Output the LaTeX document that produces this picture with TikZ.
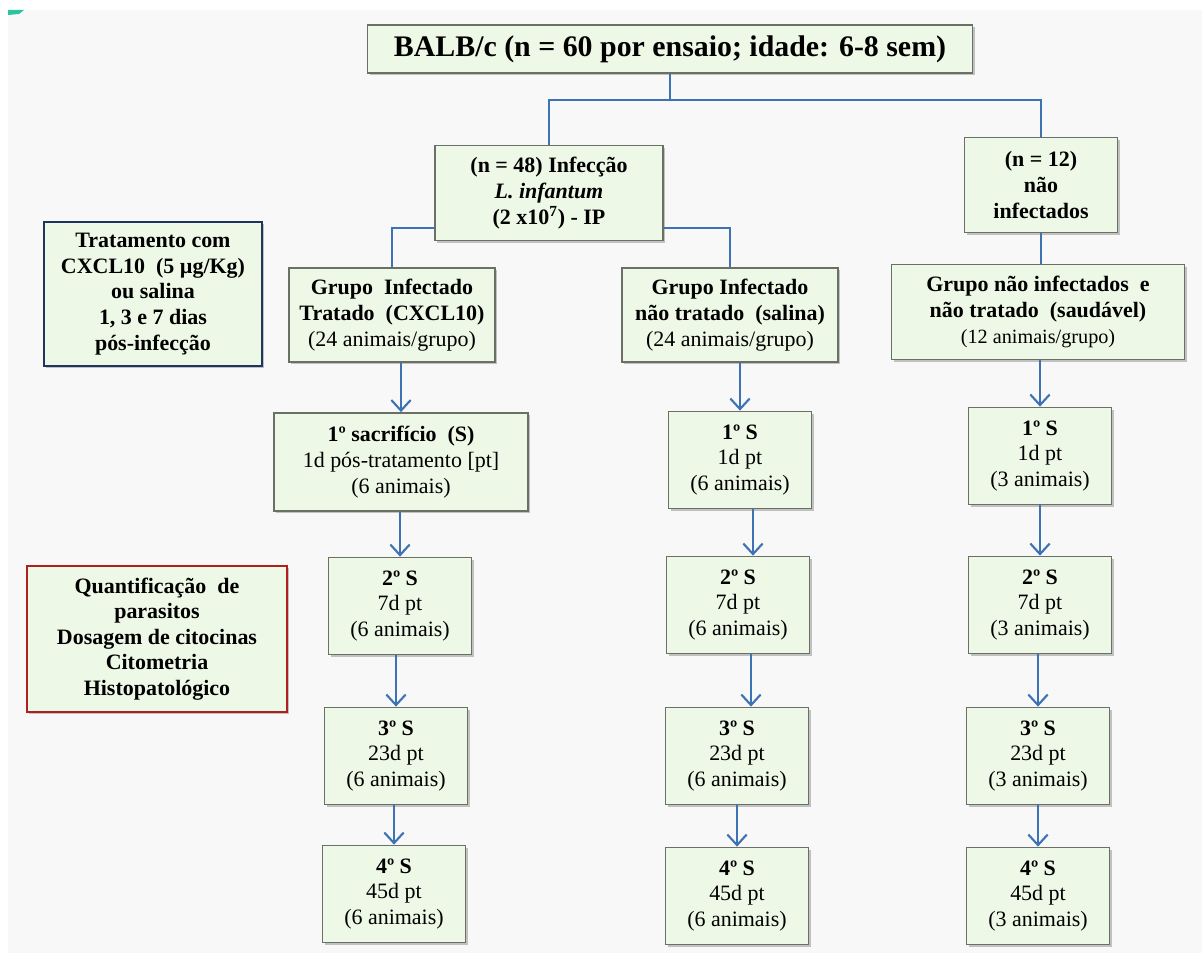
\documentclass[tikz,border=0pt]{standalone}
\usepackage{fontspec}
\setmainfont{Liberation Serif}
\usetikzlibrary{arrows.meta, positioning, calc, shadows}
\usepackage{xcolor}
\definecolor{boxfill}{HTML}{EEF8E6}
\definecolor{boxstr}{HTML}{6B7066}
\definecolor{linkblue}{HTML}{3D72B4}
\definecolor{treatstr}{HTML}{1F3560}
\definecolor{assaystr}{HTML}{B01E1E}
\definecolor{pagebg}{HTML}{F8F8F8}
\definecolor{tealmark}{HTML}{2BC4A0}
\newcommand{\boxfont}{\fontsize{12.5}{14.6}\selectfont\bfseries}
\tikzset{
  box/.style     ={rectangle, draw=boxstr, fill=boxfill, line width=1pt,
                   drop shadow={shadow xshift=1.3pt, shadow yshift=-1.3pt, opacity=0.45},
                   inner sep=0pt, align=center, font=\boxfont},
  titlebox/.style={box, minimum width=12.1cm, minimum height=0.96cm,
                   font=\fontsize{17}{20}\selectfont\bfseries},
  sbox/.style    ={box, minimum width=2.86cm, minimum height=1.94cm},
  notebox/.style ={box, line width=1.6pt},
  link/.style    ={draw=linkblue, line width=1.2pt},
  arr/.style     ={link, -{Straight Barb[length=6pt, width=11pt]}},
}

\begin{document}
\begin{tikzpicture}[x=0.02cm, y=-0.02cm]
    \useasboundingbox (0,0) rectangle (1202,953);
    \fill[pagebg] (8,10) rectangle (1202,953);
    \fill[tealmark] (8,10) -- (24,10) -- (19,14) -- (8,15) -- cycle;

    \node[titlebox] (balb) at (670,49) {BALB/c (n = 60 por ensaio; idade: 6-8 sem)};

    \node[box, minimum width=4.56cm, minimum height=1.9cm] (inf) at (549,193)
        {(n = 48) Infecção\\\textit{L. infantum}\\(2 x10\textsuperscript{7}) - IP};
    \node[box, minimum width=3.06cm, minimum height=1.9cm] (noinf) at (1041,185)
        {(n = 12)\\não\\infectados};

    \node[box, minimum width=4.12cm, minimum height=1.88cm] (trat) at (392,315)
        {Grupo \ Infectado\\Tratado \ (CXCL10)\\\mdseries(24 animais/grupo)};
    \node[box, minimum width=4.32cm, minimum height=1.88cm] (sal) at (730,315)
        {Grupo Infectado\\não tratado \ (salina)\\\mdseries(24 animais/grupo)};
    \node[box, minimum width=5.86cm, minimum height=1.9cm] (sau) at (1038,312)
        {Grupo não infectados \ e\\não tratado \ (saudável)\\\mdseries\fontsize{11.5}{14}\selectfont(12 animais/grupo)};

    \node[notebox, draw=treatstr, minimum width=4.36cm, minimum height=2.88cm] (treat) at (153,294)
        {Tratamento com\\CXCL10 \ (5 µg/Kg)\\ou salina\\1, 3 e 7 dias\\pós-infecção};
    \node[notebox, draw=assaystr, minimum width=5.2cm, minimum height=2.92cm] (assay) at (157,639)
        {Quantificação \ de\\parasitos\\Dosagem de citocinas\\Citometria\\Histopatológico};

    % infectado tratado
    \node[box, minimum width=5.08cm, minimum height=1.96cm] (a1) at (401,462)
        {1º sacrifício \ (S)\\\mdseries 1d pós-tratamento [pt]\\\mdseries(6 animais)};
    \node[sbox] (a2) at (400,606) {2º S\\\mdseries 7d pt\\\mdseries(6 animais)};
    \node[sbox] (a3) at (396,756) {3º S\\\mdseries 23d pt\\\mdseries(6 animais)};
    \node[sbox] (a4) at (394,894) {4º S\\\mdseries 45d pt\\\mdseries(6 animais)};

    % infectado nao tratado
    \node[sbox] (b1) at (740,460) {1º S\\\mdseries 1d pt\\\mdseries(6 animais)};
    \node[sbox] (b2) at (738,605) {2º S\\\mdseries 7d pt\\\mdseries(6 animais)};
    \node[sbox] (b3) at (737,756) {3º S\\\mdseries 23d pt\\\mdseries(6 animais)};
    \node[sbox] (b4) at (737,896) {4º S\\\mdseries 45d pt\\\mdseries(6 animais)};

    % saudavel
    \node[sbox] (c1) at (1040,456) {1º S\\\mdseries 1d pt\\\mdseries(3 animais)};
    \node[sbox] (c2) at (1040,605) {2º S\\\mdseries 7d pt\\\mdseries(3 animais)};
    \node[sbox] (c3) at (1038,756) {3º S\\\mdseries 23d pt\\\mdseries(3 animais)};
    \node[sbox] (c4) at (1038,896) {4º S\\\mdseries 45d pt\\\mdseries(3 animais)};

    \coordinate (split) at (670,100);
    \draw[link] (balb.south) -- (split);
    \draw[link] (inf.north) |- (split) -| (noinf.north);
    \draw[link] ([yshift=-0.7cm]inf.west) -| (trat.north);
    \draw[link] ([yshift=-0.7cm]inf.east) -| (sal.north);
    \draw[link] (noinf.south) -- (noinf.south |- sau.north);

    \draw[arr] (trat.south -| a1.north) -- (a1.north);
    \draw[arr] (a1.south -| a2.north) -- (a2.north);
    \draw[arr] (a2.south -| a3.north) -- (a3.north);
    \draw[arr] (a3.south -| a4.north) -- (a4.north);
    \draw[arr] (sal.south -| b1.north) -- (b1.north);
    \draw[arr] ([xshift=0.26cm]b1.south) -- ([xshift=0.26cm]b1.south |- b2.north);
    \draw[arr] ([xshift=0.26cm]b2.south) -- ([xshift=0.26cm]b2.south |- b3.north);
    \draw[arr] (b3.south -| b4.north) -- (b4.north);
    \draw[arr] (sau.south -| c1.north) -- (c1.north);
    \draw[arr] (c1.south -| c2.north) -- (c2.north);
    \draw[arr] (c2.south -| c3.north) -- (c3.north);
    \draw[arr] (c3.south -| c4.north) -- (c4.north);
  \end{tikzpicture}
\end{document}
